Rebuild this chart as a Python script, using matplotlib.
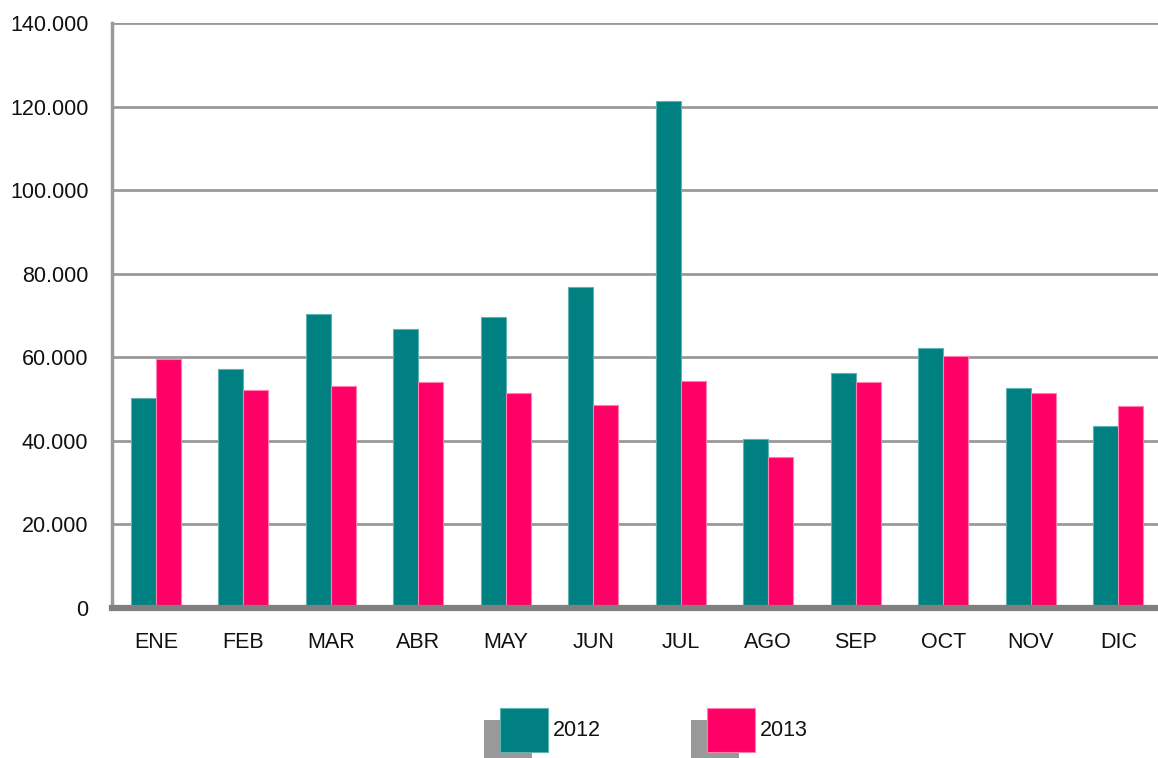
import numpy as np
import matplotlib
matplotlib.use("Agg")
import matplotlib.pyplot as plt
from matplotlib.patches import Rectangle
from matplotlib.ticker import FuncFormatter

meses = ['ENE', 'FEB', 'MAR', 'ABR', 'MAY', 'JUN', 'JUL', 'AGO', 'SEP', 'OCT', 'NOV', 'DIC']
v2012 = [50200, 57200, 70400, 66800, 69600, 76800, 121300, 40400, 56200, 62200, 52600, 43600]
v2013 = [59600, 52200, 53100, 54100, 51400, 48600, 54300, 36100, 54100, 60300, 51400, 48300]
series = ['2012', '2013']
colores = ['#008080', '#FF0066']
bordes = ['#5fb3b3', '#ff7fb0']

plt.rcParams['font.family'] = ['Liberation Sans Narrow', 'Liberation Sans', 'DejaVu Sans']

fig = plt.figure(figsize=(11.58, 7.58), dpi=100)
ax = fig.add_axes([112/1158, 150/758, 1050/1158, 585/758])

x = np.arange(len(meses))
w = 0.286
ax.bar(x - w/2, v2012, w, color=colores[0], edgecolor=bordes[0], linewidth=0.8, zorder=3)
ax.bar(x + w/2, v2013, w, color=colores[1], edgecolor=bordes[1], linewidth=0.8, zorder=3)

ax.set_xlim(-0.5, len(meses) - 0.5)
ax.set_ylim(0, 140000)
ax.set_yticks(np.arange(0, 140001, 20000))
ax.yaxis.set_major_formatter(FuncFormatter(lambda v, p: '{:,.0f}'.format(v).replace(',', '.')))
ax.set_xticks(x)
ax.set_xticklabels(meses)
ax.tick_params(axis='both', length=0, labelsize=15.5, colors='#111111')
ax.tick_params(axis='x', pad=17)
ax.tick_params(axis='y', pad=17)

ax.grid(axis='y', color='#999999', linewidth=2, zorder=1)
for s in ['top', 'right']:
    ax.spines[s].set_visible(False)
ax.spines['left'].set_color('#999999')
ax.spines['left'].set_linewidth(2.5)
ax.spines['bottom'].set_color('#808080')
ax.spines['bottom'].set_linewidth(4.5)
ax.spines['bottom'].set_zorder(4)

# leyenda con sombra gris
leg_x = [500, 707]
for i, lab in enumerate(series):
    x0 = leg_x[i] / 1158
    y0 = (758 - 752) / 758
    sw, sh = 48 / 1158, 44 / 758
    fig.patches.append(Rectangle((x0 - 16/1158, y0 - 12/758), sw, sh, transform=fig.transFigure,
                                 facecolor='#999999', edgecolor='none', zorder=1))
    fig.patches.append(Rectangle((x0, y0), sw, sh, transform=fig.transFigure,
                                 facecolor=colores[i], edgecolor=bordes[i], linewidth=0.8, zorder=2))
    fig.text(x0 + sw + 5/1158, y0 + sh/2, lab, fontsize=15.5, va='center', ha='left', color='#111111')

fig.savefig('out.png', dpi=100)
